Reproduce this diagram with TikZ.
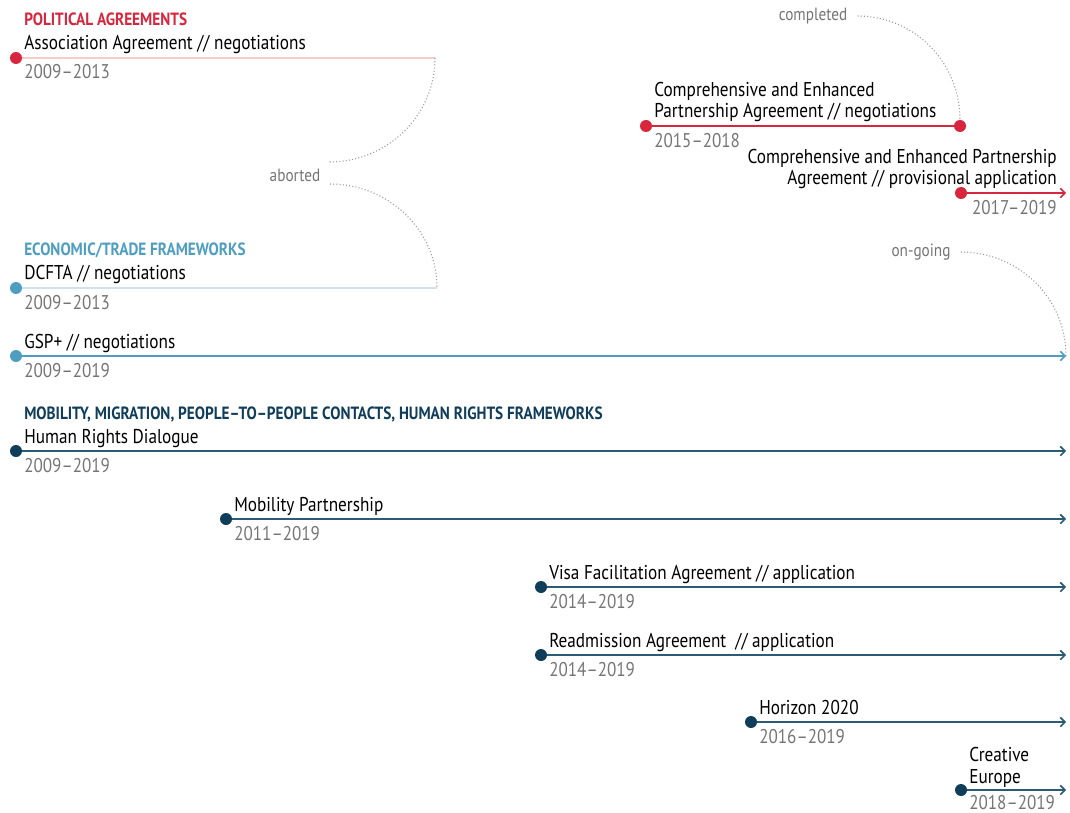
\documentclass[tikz,border=0pt]{standalone}
\usepackage{fontspec}
\setmainfont[FakeStretch=0.86]{PT Sans}
\usepackage{tikz}
\usetikzlibrary{arrows.meta}
\definecolor{polred}{HTML}{D7263D}
\definecolor{polfade}{HTML}{F5CCC6}
\definecolor{ecoblue}{HTML}{4E9EC1}
\definecolor{ecofade}{HTML}{CFE3EE}
\definecolor{mobdark}{HTML}{0F3D5A}
\definecolor{mobline}{HTML}{2C5B77}
\definecolor{dategray}{HTML}{757575}
\definecolor{notegray}{HTML}{9A9A9A}
\tikzstyle{dot} = [circle, inner sep=0pt, minimum size=9pt]
\tikzstyle{label} = [inner sep=0pt, font=\fontsize{15}{17}\selectfont, text=black]
\tikzstyle{date} = [inner sep=0pt, font=\fontsize{14.9}{17}\selectfont, text=dategray]
\tikzstyle{heading} = [inner sep=0pt, font=\fontsize{13.3}{15}\selectfont\bfseries]
\tikzstyle{note} = [inner sep=0pt, font=\fontsize{13.3}{15}\selectfont, text=dategray]
\tikzstyle{bar} = [line width=1.1pt]
\tikzstyle{arrow} = [bar, -{Straight Barb[length=3.5pt,width=7pt,line width=1.2pt]}]
\tikzstyle{link} = [notegray, line width=0.8pt, dash pattern=on 0.8pt off 1.6pt]
\begin{document}
\begin{tikzpicture}[x=0.75pt, y=-0.75pt]
\useasboundingbox (0,0) rectangle (1070,813);
% political agreements
\node [heading, text=polred, anchor=base west] (hpol) at (24,26) {POLITICAL AGREEMENTS};
\node [dot, fill=polred] (aa) at (16,58) {};
\coordinate (aaend) at (435,58);
\draw [bar, polfade] (aa) -- (aaend);
\node [label, anchor=base west] (aalab) at (24,50) {Association Agreement // negotiations};
\node [date, anchor=base west] (aadate) at (24,79) {2009--2013};
\node [dot, fill=polred] (cepa) at (646,126) {};
\node [dot, fill=polred] (cepaend) at (960,126) {};
\draw [bar, polred] (cepa) -- (cepaend);
\node [label, anchor=base west] (cepalab) at (654,97) {Comprehensive and Enhanced};
\node [label, anchor=base west] (cepalabb) at (654,118) {Partnership Agreement // negotiations};
\node [date, anchor=base west] (cepadate) at (654,147) {2015--2018};
\node [dot, fill=polred] (prov) at (961,193) {};
\coordinate (provend) at (1066,193);
\draw [arrow, polred] (prov) -- (provend);
\node [label, anchor=base east] (provlab) at (1057,163) {Comprehensive and Enhanced Partnership};
\node [label, anchor=base east] (provlabb) at (1057,185) {Agreement // provisional application};
\node [date, anchor=base east] (provdate) at (1057,214) {2017--2019};
% notes
\node [note] (completed) at (813,16) {completed};
\draw [link] (completed.east) ++(10,0) to[out=0, in=90] (cepaend.north);
\node [note] (aborted) at (295,175) {aborted};
\coordinate (abup) at (329,162);
\coordinate (abdown) at (330,184);
\draw [link] (aaend) to[out=-90, in=0] (abup);
% economic / trade frameworks
\node [heading, text=ecoblue, anchor=base west] (heco) at (24,255) {ECONOMIC/TRADE FRAMEWORKS};
\node [dot, fill=ecoblue] (dcfta) at (16,288) {};
\coordinate (dcftaend) at (437,288);
\draw [bar, ecofade] (dcfta) -- (dcftaend);
\node [label, anchor=base west] (dcftalab) at (24,279) {DCFTA // negotiations};
\node [date, anchor=base west] (dcftadate) at (24,309) {2009--2013};
\draw [link] (abdown) to[out=0, in=90] (dcftaend);
\node [dot, fill=ecoblue] (gsp) at (16,356) {};
\coordinate (gspend) at (1066,356);
\draw [arrow, ecoblue] (gsp) -- (gspend);
\node [label, anchor=base west] (gsplab) at (24,348) {GSP+ // negotiations};
\node [date, anchor=base west] (gspdate) at (24,377) {2009--2019};
\node [note] (ongoing) at (921,252) {on-going};
\draw [link] (ongoing.east) ++(10,0) to[out=0, in=90] (gspend);
% mobility, migration, people-to-people, human rights
\node [heading, text=mobdark, anchor=base west] (hmob) at (24,419) {MOBILITY, MIGRATION, PEOPLE--TO--PEOPLE CONTACTS, HUMAN RIGHTS FRAMEWORKS};
\node [dot, fill=mobdark] (hrd) at (16,451) {};
\coordinate (hrdend) at (1066,451);
\draw [arrow, mobline] (hrd) -- (hrdend);
\node [label, anchor=base west] (hrdlab) at (24,443) {Human Rights Dialogue};
\node [date, anchor=base west] (hrddate) at (24,472) {2009--2019};
\node [dot, fill=mobdark] (mp) at (226,519) {};
\coordinate (mpend) at (1066,519);
\draw [arrow, mobline] (mp) -- (mpend);
\node [label, anchor=base west] (mplab) at (234,511) {Mobility Partnership};
\node [date, anchor=base west] (mpdate) at (234,540) {2011--2019};
\node [dot, fill=mobdark] (visa) at (541,587) {};
\coordinate (visaend) at (1066,587);
\draw [arrow, mobline] (visa) -- (visaend);
\node [label, anchor=base west] (visalab) at (549,579) {Visa Facilitation Agreement // application};
\node [date, anchor=base west] (visadate) at (549,608) {2014--2019};
\node [dot, fill=mobdark] (readm) at (541,655) {};
\coordinate (readmend) at (1066,655);
\draw [arrow, mobline] (readm) -- (readmend);
\node [label, anchor=base west] (readmlab) at (549,647) {Readmission Agreement\ \ // application};
\node [date, anchor=base west] (readmdate) at (549,676) {2014--2019};
\node [dot, fill=mobdark] (hor) at (751,722) {};
\coordinate (horend) at (1066,722);
\draw [arrow, mobline] (hor) -- (horend);
\node [label, anchor=base west] (horlab) at (759,714) {Horizon 2020};
\node [date, anchor=base west] (hordate) at (759,743) {2016--2019};
\node [dot, fill=mobdark] (ce) at (961,790) {};
\coordinate (ceend) at (1066,790);
\draw [arrow, mobline] (ce) -- (ceend);
\node [label, anchor=base west] (celab) at (969,761) {Creative};
\node [label, anchor=base west] (celabb) at (969,783) {Europe};
\node [date, anchor=base west] (cedate) at (969,809.5) {2018--2019};
\end{tikzpicture}
\end{document}
